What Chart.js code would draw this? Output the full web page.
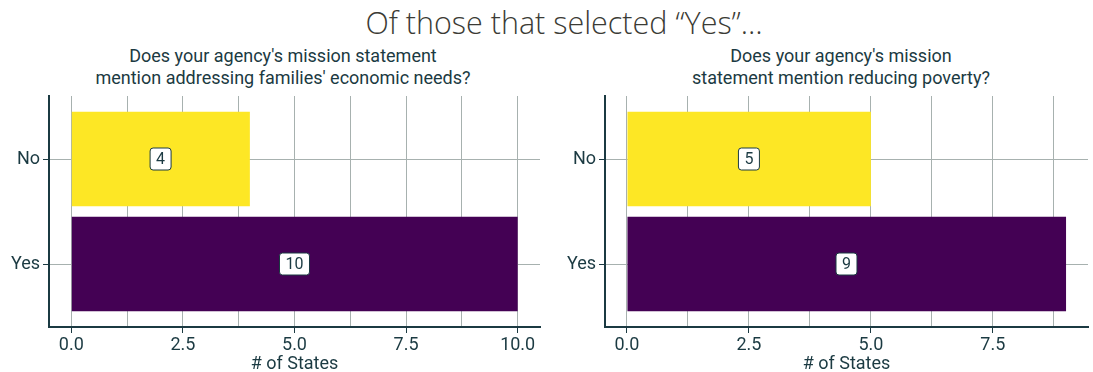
<!DOCTYPE html>
<html>
<head>
<meta charset="utf-8">
<script src="https://cdn.jsdelivr.net/npm/chart.js@4/dist/chart.umd.min.js"></script>
<style>
  html, body { margin: 0; padding: 0; background: #fff; overflow: hidden; }
  #page { position: relative; width: 1093px; height: 372px; }
  .title {
    position: absolute; left: 0; top: 1px; width: 1128px; text-align: center;
    font-family: "Open Sans", sans-serif; font-weight: 300; font-size: 30.5px; color: #3b3b35;
  }
  .sub {
    position: absolute; top: 45px; width: 560px; text-align: center;
    font-family: Roboto, sans-serif; font-size: 18px; line-height: 22px; color: #1b3a42;
  }
  canvas { position: absolute; top: 0; }
</style>
</head>
<body>
<div id="page">
  <div class="title">Of those that selected “Yes”…</div>
  <div class="sub" style="left: 3px;">Does your agency's mission statement<br>mention addressing families' economic needs?</div>
  <div class="sub" style="left: 561px;">Does your agency's mission<br>statement mention reducing poverty?</div>
  <canvas id="left" style="left: 0px;"></canvas>
  <canvas id="right" style="left: 556px;"></canvas>
</div>
<script>
const categories = ["No", "Yes"];
const economicNeeds = [4, 10];
const reducingPoverty = [5, 9];
const barColors = ["#fde725", "#440154"];
const ticksEconomic = [0, 1.25, 2.5, 3.75, 5, 6.25, 7.5, 8.75, 10];
const ticksPoverty = [0, 1.25, 2.5, 3.75, 5, 6.25, 7.5, 8.75];

const ink = "#1b3a42";
const gridGray = "#a7b1af";

// boxed value label in the middle of each bar
const valueLabels = {
  id: "valueLabels",
  afterDatasetsDraw(chart) {
    const ctx = chart.ctx;
    const xs = chart.scales.x;
    const meta = chart.getDatasetMeta(0);
    ctx.save();
    ctx.font = "16px Roboto";
    ctx.textAlign = "center";
    ctx.textBaseline = "middle";
    meta.data.forEach((bar, i) => {
      const v = chart.data.datasets[0].data[i].x;
      const txt = String(v);
      const cx = xs.getPixelForValue(v / 2);
      const cy = bar.y;
      const w = ctx.measureText(txt).width + 12;
      const h = 22;
      ctx.beginPath();
      ctx.roundRect(cx - w / 2, cy - h / 2, w, h, 3);
      ctx.fillStyle = "#fff";
      ctx.fill();
      ctx.lineWidth = 1;
      ctx.strokeStyle = ink;
      ctx.stroke();
      ctx.fillStyle = ink;
      ctx.fillText(txt, cx, cy + 1);
    });
    ctx.restore();
  }
};

function makeChart(id, width, values, xMax, xTicks, padRight) {
  const el = document.getElementById(id);
  el.width = width;
  el.height = 372;
  el.style.width = width + "px";
  el.style.height = "372px";
  return new Chart(el, {
    type: "bar",
    data: {
      datasets: [{
        data: values.map((v, i) => ({ x: v, y: i + 1 })),
        backgroundColor: barColors,
        borderWidth: 0,
        barPercentage: 0.9,
        categoryPercentage: 1.0,
      }],
    },
    plugins: [valueLabels],
    options: {
      indexAxis: "y",
      responsive: false,
      animation: false,
      layout: { padding: { top: 96, right: padRight, left: 0, bottom: 0 } },
      plugins: { legend: { display: false }, tooltip: { enabled: false }, title: { display: false } },
      scales: {
        x: {
          type: "linear",
          min: -xMax * 0.05,
          max: xMax * 1.05,
          afterBuildTicks: s => { s.ticks = xTicks.map(v => ({ value: v })); },
          afterFit: s => { s.height = 45; },
          ticks: {
            padding: 2,
            color: ink,
            font: { family: "Roboto", size: 18 },
            maxRotation: 0,
            autoSkip: false,
            callback: v => (v % 2.5 === 0 ? v.toFixed(1) : ""),
          },
          grid: {
            color: gridGray,
            lineWidth: 1,
            tickLength: 6,
            tickColor: c => (c.tick && c.tick.value % 2.5 === 0 ? ink : "rgba(0,0,0,0)"),
          },
          border: { color: ink, width: 2 },
          title: {
            display: true,
            text: "# of States",
            color: ink,
            font: { family: "Roboto", size: 18 },
            padding: { top: 0, bottom: -3 },
          },
        },
        y: {
          type: "linear",
          reverse: true,
          offset: false,
          min: 0.4,
          max: 2.6,
          afterBuildTicks: s => { s.ticks = categories.map((c, i) => ({ value: i + 1 })); },
          afterFit: s => { s.width = 49; },
          ticks: {
            padding: 3,
            color: ink,
            font: { family: "Roboto", size: 18 },
            callback: v => categories[v - 1],
          },
          grid: { offset: false, color: gridGray, lineWidth: 1, tickLength: 6, tickColor: ink },
          border: { color: ink, width: 2 },
        },
      },
    },
  });
}

makeChart("left", 550, economicNeeds, 10, ticksEconomic, 10);
makeChart("right", 537, reducingPoverty, 9, ticksPoverty, 5);
</script>
</body>
</html>
